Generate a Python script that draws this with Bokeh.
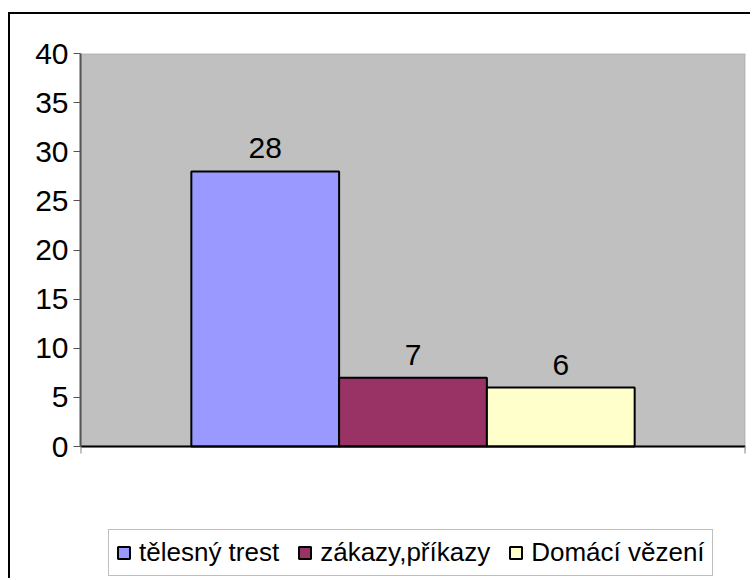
from bokeh.plotting import figure
from bokeh.models import (Range1d, FixedTicker, Legend, LegendItem, BoxAnnotation,
                          CustomJSTickFormatter, ColumnDataSource, LabelSet)
from bokeh.core.properties import value
from bokeh.embed import file_html
from bokeh.resources import INLINE

categories = ["tělesný trest", "zákazy,příkazy", "Domácí vězení"]
values = [28, 7, 6]
colors = ["#9999FF", "#993366", "#FFFFCC"]
y_ticks = [0, 5, 10, 15, 20, 25, 30, 35, 40]
y_min, y_max = 0, 40

FONT = "Liberation Sans"

W, H = 742, 566
BORDER_L, BORDER_R, BORDER_T = 70, 7, 39
PLOT_H = 393  # pixel height of the value area (0..40)
frame_h = H - BORDER_T
y_start = y_max - (y_max - y_min) * frame_h / PLOT_H

p = figure(width=W, height=H, output_backend="svg", toolbar_location=None,
           x_range=Range1d(-0.25, 4.25), y_range=Range1d(y_start, y_max),
           min_border_left=BORDER_L, min_border_right=BORDER_R,
           min_border_top=BORDER_T, min_border_bottom=0,
           styles={"margin-left": "8px", "margin-top": "12px",
                   "border-left": "2px solid black", "border-top": "2px solid black"})
p.background_fill_color = "white"
p.border_fill_color = "white"
p.outline_line_color = None
p.grid.visible = False

plot_area = BoxAnnotation(bottom=y_min, top=y_max, fill_color="#C0C0C0", fill_alpha=1,
                          line_color="#808080", line_width=2, level="underlay")
p.add_layout(plot_area)

xs = [i + 1 for i in range(len(categories))]
items = []
for i, (c, v, col) in enumerate(zip(categories, values, colors)):
    src = ColumnDataSource(dict(x=[xs[i]], top=[v]))
    r = p.vbar(x="x", top="top", bottom=0, width=1, source=src,
               fill_color=col, line_color="black", line_width=2)
    items.append(LegendItem(label=c, renderers=[r]))

lbl_src = ColumnDataSource(dict(x=xs, y=values, lbl=[str(v) for v in values]))
labels = LabelSet(x="x", y="y", text="lbl", source=lbl_src, y_offset=13,
                  text_align="center", text_baseline="alphabetic",
                  text_font=value(FONT), text_font_size="30px", text_color="black")
p.add_layout(labels)

# y axis
ya = p.yaxis[0]
ya.ticker = FixedTicker(ticks=y_ticks)
ya.bounds = (y_min, y_max)
ya.major_tick_out = 7
ya.major_tick_in = 0
ya.minor_tick_line_color = None
ya.axis_line_color = "#555555"
ya.axis_line_width = 2
ya.major_tick_line_color = "#555555"
ya.major_label_text_font = FONT
ya.major_label_text_font_size = "30px"
ya.major_label_text_color = "black"
ya.major_label_standoff = 5

# x axis at value 0
xa = p.xaxis[0]
xa.fixed_location = y_min
xa.ticker = FixedTicker(ticks=[-0.25, 4.25])
xa.formatter = CustomJSTickFormatter(code="return ''")
xa.major_tick_out = 7
xa.major_tick_in = 0
xa.major_label_standoff = 0
xa.minor_tick_line_color = None
xa.axis_line_color = "black"
xa.axis_line_width = 2
xa.major_tick_line_color = "#808080"
xa.major_tick_line_width = 2

legend = Legend(items=items, location=(28, 4), orientation="horizontal",
                label_text_font=FONT, label_text_font_size="26px",
                label_text_color="black",
                glyph_width=15, glyph_height=15, label_standoff=8, spacing=18,
                padding=7, margin=0,
                border_line_color="#808080", border_line_width=1,
                background_fill_color="white", background_fill_alpha=1)
p.add_layout(legend, "center")

open("out.html", "w").write(file_html(p, INLINE))
